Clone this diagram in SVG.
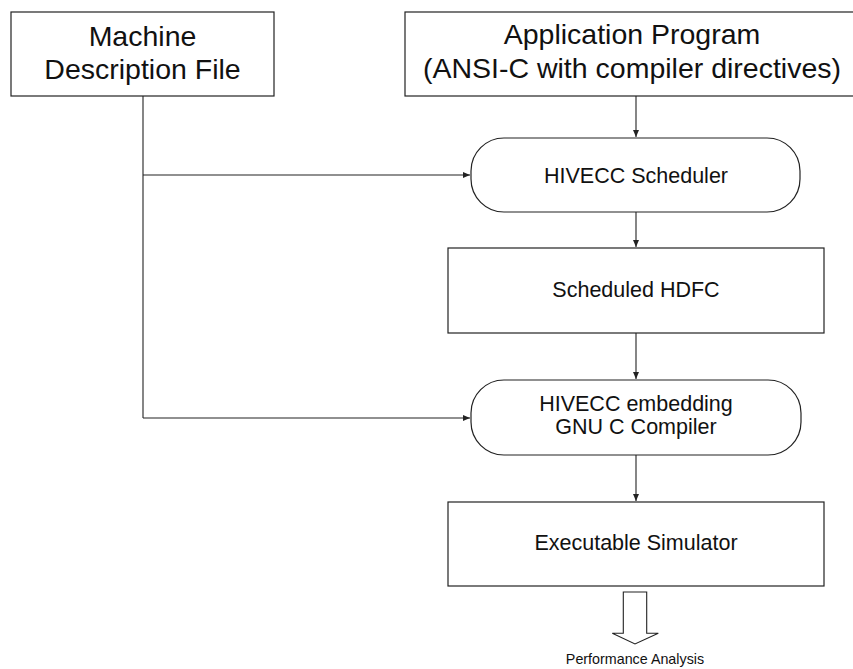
<svg xmlns="http://www.w3.org/2000/svg" width="853" height="669" viewBox="0 0 853 669">
  <style>
    .box { fill: #ffffff; stroke: #222222; stroke-width: 1.2; }
    .big { font-family: "Liberation Sans", Arial, sans-serif; font-size: 28.5px; fill: #111111; text-anchor: middle; }
    .mid { font-family: "Liberation Sans", Arial, sans-serif; font-size: 21.5px; fill: #111111; text-anchor: middle; }
    .small { font-family: "Liberation Sans", Arial, sans-serif; font-size: 14.3px; fill: #111111; text-anchor: middle; }
    .wire { fill: none; stroke: #222222; stroke-width: 1.1; }
  </style>
  <defs>
    <marker id="arrow" markerWidth="8" markerHeight="6" refX="7" refY="3" orient="auto" markerUnits="userSpaceOnUse">
      <path d="M0,0 L7,3 L0,6 Z" fill="#222222"/>
    </marker>
  </defs>

  <rect width="853" height="669" fill="#ffffff"/>

  <!-- connectors -->
  <g id="connectors">
    <path class="wire" d="M143,96 V418"/>
    <path class="wire" d="M143,175 H470" marker-end="url(#arrow)"/>
    <path class="wire" d="M143,418 H470" marker-end="url(#arrow)"/>
    <path class="wire" d="M636,96 V137" marker-end="url(#arrow)"/>
    <path class="wire" d="M636,212 V247" marker-end="url(#arrow)"/>
    <path class="wire" d="M636,333 V379" marker-end="url(#arrow)"/>
    <path class="wire" d="M636,455 V501" marker-end="url(#arrow)"/>
    <!-- hollow block arrow towards the analysis result -->
    <path d="M623.3,592 H646.7 V633.3 H658.3 L635,644 L612.3,633.3 H623.3 Z" fill="#ffffff" stroke="#222222" stroke-width="1.1"/>
  </g>

  <g id="machine-description">
    <rect class="box" x="11" y="12" width="263" height="84"/>
    <text class="big" x="142.5" y="46">Machine</text>
    <text class="big" x="142.5" y="79">Description File</text>
  </g>

  <g id="application-program">
    <rect class="box" x="405" y="12" width="460" height="84"/>
    <text class="big" x="632" y="44">Application Program</text>
    <text class="big" x="632" y="78">(ANSI-C with compiler directives)</text>
  </g>

  <g id="scheduler">
    <rect class="box" x="471" y="138" width="329" height="74" rx="33" ry="33"/>
    <text class="mid" x="636" y="183">HIVECC Scheduler</text>
  </g>

  <g id="scheduled-hdfc">
    <rect class="box" x="448" y="248" width="376" height="85"/>
    <text class="mid" x="636" y="297">Scheduled HDFC</text>
  </g>

  <g id="compiler">
    <rect class="box" x="471" y="380" width="330" height="75" rx="33" ry="33"/>
    <text class="mid" x="636" y="411">HIVECC embedding</text>
    <text class="mid" x="636" y="434">GNU C Compiler</text>
  </g>

  <g id="simulator">
    <rect class="box" x="448" y="502" width="376" height="84"/>
    <text class="mid" x="636" y="550">Executable Simulator</text>
  </g>

  <g id="performance-analysis">
    <text class="small" x="635" y="664">Performance Analysis</text>
  </g>
</svg>
